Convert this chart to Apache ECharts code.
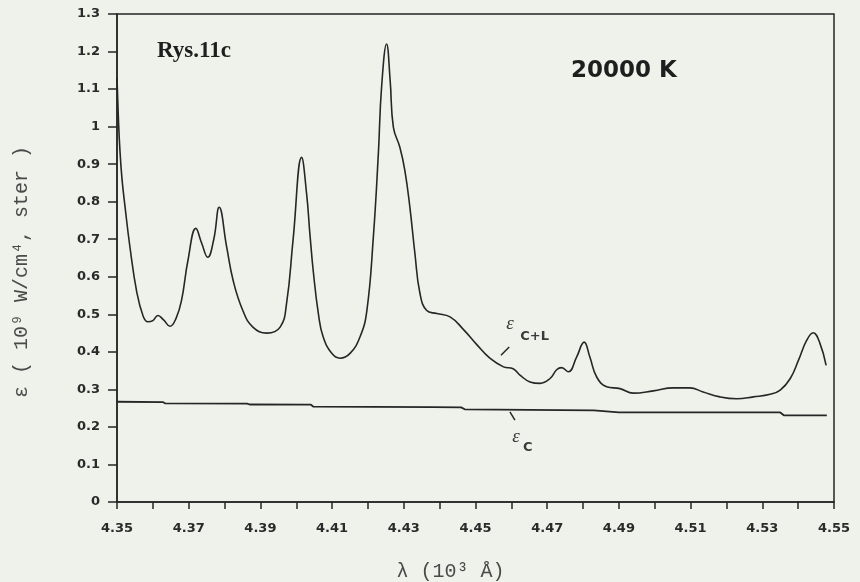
<!DOCTYPE html>
<html>
<head>
<meta charset="utf-8">
<script src="https://cdn.jsdelivr.net/npm/echarts@6/dist/echarts.min.js"></script>
<style>
  html, body { margin: 0; padding: 0; background: #eff2eb; }
  #chart { width: 860px; height: 582px; }
</style>
</head>
<body>
<div id="chart"></div>
<script>
// Emission coefficient, continuum + lines (upper curve)
const wavelength = [
  4.3500, 4.3504, 4.3508, 4.3514, 4.3522, 4.3536, 4.3555, 4.3573, 4.3586, 4.3600,
  4.3614, 4.3630, 4.3648, 4.3665, 4.3680, 4.3698, 4.3720, 4.3736, 4.3753, 4.3770,
  4.3785, 4.3806, 4.3824, 4.3851, 4.3879, 4.3918, 4.3955, 4.3973, 4.3991, 4.4015,
  4.4029, 4.4038, 4.4048, 4.4062, 4.4075, 4.4099, 4.4122, 4.4150, 4.4178, 4.4197,
  4.4215, 4.4229, 4.4238, 4.4252, 4.4262, 4.4271, 4.4289, 4.4303, 4.4317, 4.4331,
  4.4345, 4.4364, 4.4392, 4.4429, 4.4466, 4.4503, 4.4540, 4.4578, 4.4605, 4.4624,
  4.4652, 4.4680, 4.4708, 4.4727, 4.4740, 4.4759, 4.4782, 4.4803, 4.4819, 4.4838,
  4.4866, 4.4903, 4.4940, 4.4996, 4.5052, 4.5098, 4.5135, 4.5182, 4.5229, 4.5275,
  4.5322, 4.5350, 4.5378, 4.5401, 4.5424, 4.5442, 4.5461, 4.5478
];
const epsCL = [
  1.130, 1.020, 0.940, 0.860, 0.790, 0.680, 0.560, 0.495, 0.480, 0.483,
  0.497, 0.485, 0.468, 0.490, 0.537, 0.644, 0.729, 0.690, 0.652, 0.700,
  0.785, 0.679, 0.590, 0.510, 0.466, 0.450, 0.466, 0.529, 0.697, 0.918,
  0.820, 0.715, 0.610, 0.500, 0.440, 0.396, 0.383, 0.396, 0.440, 0.510,
  0.705, 0.928, 1.105, 1.220, 1.122, 0.998, 0.945, 0.883, 0.785, 0.662,
  0.556, 0.510, 0.502, 0.493, 0.460, 0.420, 0.383, 0.360, 0.355, 0.338,
  0.320, 0.316, 0.329, 0.353, 0.358, 0.347, 0.386, 0.426, 0.386, 0.333,
  0.307, 0.302, 0.290, 0.296, 0.304, 0.304, 0.293, 0.280, 0.275, 0.280,
  0.287, 0.298, 0.329, 0.378, 0.431, 0.451, 0.422, 0.364
];

// Continuum only (lower curve)
const wavelengthC = [
  4.3500, 4.3629, 4.3635, 4.3863, 4.3870, 4.4040, 4.4048, 4.4380, 4.4460, 4.4470,
  4.4830, 4.4900, 4.5350, 4.5360, 4.5480
];
const epsC = [
  0.2670, 0.2660, 0.2625, 0.2622, 0.2598, 0.2595, 0.2540, 0.2530, 0.2520, 0.2470,
  0.2440, 0.2390, 0.2385, 0.2310, 0.2305
];

// Axis tick labels
const xTickLabels = ['4.35', '4.37', '4.39', '4.41', '4.43', '4.45', '4.47', '4.49', '4.51', '4.53', '4.55'];
const yTickLabels = ['0', '0.1', '0.2', '0.3', '0.4', '0.5', '0.6', '0.7', '0.8', '0.9', '1', '1.1', '1.2', '1.3'];

const ink = '#262626';
const tickFont = { fontFamily: 'DejaVu Sans', fontWeight: 'bold', fontSize: 13, color: '#2a2a2a' };

const chart = echarts.init(document.getElementById('chart'), null, { renderer: 'canvas' });

chart.setOption({
  backgroundColor: '#eff2eb',
  animation: false,
  grid: {
    left: 117, right: 26, top: 14, bottom: 80,
    containLabel: false,
    outerBoundsMode: 'none',
    show: true, borderColor: ink, borderWidth: 1.5, backgroundColor: 'transparent'
  },
  xAxis: {
    type: 'value',
    min: 4.35, max: 4.55, interval: 0.01,
    name: 'λ (10³ Å)',
    nameLocation: 'middle',
    nameGap: 60,
    nameTextStyle: { fontFamily: 'Liberation Mono', fontSize: 20, color: '#4a4a4a', padding: [0, 50, 0, 0] },
    axisLine: { show: true, onZero: false, lineStyle: { color: ink, width: 1.5 } },
    axisTick: { show: true, inside: false, length: 7, lineStyle: { color: ink, width: 1.5 } },
    splitLine: { show: false },
    axisLabel: Object.assign({
      margin: 20,
      showMinLabel: true, showMaxLabel: true,
      formatter: function (v) {
        const s = v.toFixed(2);
        return xTickLabels.indexOf(s) >= 0 ? s : '';
      }
    }, tickFont)
  },
  yAxis: {
    type: 'value',
    min: 0, max: 1.3, interval: 0.1,
    name: 'ε ( 10⁹ W/cm⁴, ster )',
    nameLocation: 'middle',
    nameRotate: 90,
    nameGap: 85,
    nameTextStyle: { fontFamily: 'Liberation Mono', fontSize: 20, color: '#4a4a4a', padding: [0, 28, 0, 0] },
    axisLine: { show: true, lineStyle: { color: ink, width: 1.5 } },
    axisTick: { show: true, inside: false, length: 9, lineStyle: { color: ink, width: 1.5 } },
    splitLine: { show: false },
    axisLabel: Object.assign({
      margin: 17,
      formatter: function (v) {
        return yTickLabels[Math.round(v * 10)];
      }
    }, tickFont)
  },
  series: [
    {
      name: 'εC+L',
      type: 'line',
      data: wavelength.map((x, i) => [x, epsCL[i]]),
      showSymbol: false,
      smooth: 0.45,
      lineStyle: { color: ink, width: 1.6 },
      z: 3
    },
    {
      name: 'εC',
      type: 'line',
      data: wavelengthC.map((x, i) => [x, epsC[i]]),
      showSymbol: false,
      lineStyle: { color: ink, width: 1.8 },
      z: 3
    }
  ]
});

// Text labels and curve pointers, anchored in data space
function px(x, y) { return chart.convertToPixel({ gridIndex: 0 }, [x, y]); }

function label(text, at, font, color) {
  const p = px(at[0], at[1]);
  return {
    type: 'text', x: p[0], y: p[1], z: 10,
    style: { text: text, font: font, fill: color || ink, align: 'center', verticalAlign: 'middle', textAlign: 'center', textVerticalAlign: 'middle' }
  };
}
function pointer(a, b) {
  const p = px(a[0], a[1]), q = px(b[0], b[1]);
  return {
    type: 'line', z: 10,
    shape: { x1: p[0], y1: p[1], x2: q[0], y2: q[1] },
    style: { stroke: ink, lineWidth: 1.5 }
  };
}

chart.setOption({
  graphic: [
    { type: 'text', left: 157, top: 40, z: 10,
      style: { text: 'Rys.11c', font: 'bold 23px "Liberation Serif"', fill: '#1e1e1e' } },
    { type: 'text', left: 571, top: 60, z: 10,
      style: { text: '20000 K', font: 'bold 23px "DejaVu Sans"', fill: '#1e1e1e' } },
    label('ε', [4.4596, 0.473], 'italic 19px "Liberation Serif"', '#3a3a3a'),
    label('C+L', [4.4665, 0.441], 'bold 13px "DejaVu Sans"', '#3a3a3a'),
    pointer([4.4571, 0.391], [4.4594, 0.413]),
    label('ε', [4.4613, 0.173], 'italic 19px "Liberation Serif"', '#3a3a3a'),
    label('C', [4.4646, 0.145], 'bold 13px "DejaVu Sans"', '#3a3a3a'),
    pointer([4.4596, 0.240], [4.4610, 0.218])
  ]
});
</script>
</body>
</html>
